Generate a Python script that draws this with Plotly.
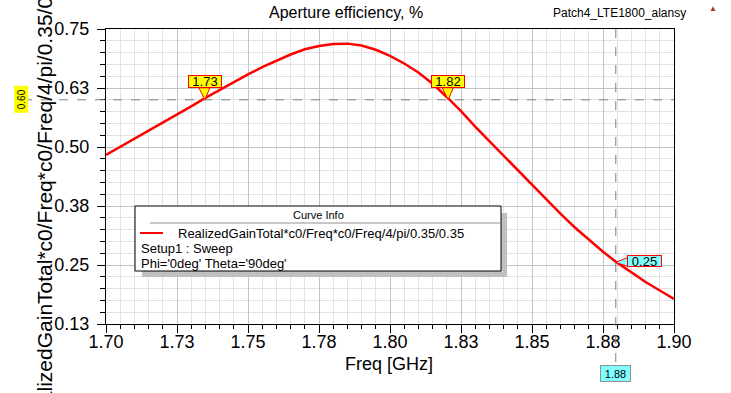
import plotly.graph_objects as go

# ---------------- data ----------------
freq_ghz = [1.700, 1.705, 1.710, 1.715, 1.720, 1.725, 1.730, 1.735, 1.740, 1.745,
            1.750, 1.755, 1.760, 1.765, 1.770, 1.775, 1.780, 1.785, 1.790, 1.795,
            1.800, 1.805, 1.810, 1.815, 1.820, 1.825, 1.830, 1.835, 1.840, 1.845,
            1.850, 1.855, 1.860, 1.865, 1.870, 1.875, 1.880, 1.885, 1.890, 1.895,
            1.900]
efficiency = [0.483, 0.500, 0.517, 0.534, 0.551, 0.568, 0.586, 0.604, 0.621, 0.638,
              0.654, 0.669, 0.683, 0.696, 0.707, 0.714, 0.718, 0.719, 0.715, 0.706,
              0.693, 0.677, 0.658, 0.634, 0.606, 0.576, 0.543, 0.512, 0.481, 0.450,
              0.419, 0.389, 0.359, 0.330, 0.303, 0.278, 0.255, 0.234, 0.214, 0.196,
              0.178]

x_tick_vals = [1.700, 1.725, 1.750, 1.775, 1.800, 1.825, 1.850, 1.875, 1.900]
x_tick_text = ["1.70", "1.73", "1.75", "1.78", "1.80", "1.83", "1.85", "1.88", "1.90"]
y_tick_vals = [0.125, 0.25, 0.375, 0.5, 0.625, 0.75]
y_tick_text = ["0.13", "0.25", "0.38", "0.50", "0.63", "0.75"]

marker_freqs = [1.7348, 1.8205]
marker_freq_labels = ["1.73", "1.82"]
marker_level = 0.60
marker_level_label = "0.60"
probe_freq = 1.8795
probe_freq_label = "1.88"
probe_value = 0.2555
probe_value_label = "0.25"

title_text = "Aperture efficiency, %"
project_text = "Patch4_LTE1800_alansy"
x_title = "Freq [GHz]"
y_title = "RealizedGainTotal*c0/Freq*c0/Freq/4/pi/0.35/0.35"
legend_header = "Curve Info"
legend_lines = ["RealizedGainTotal*c0/Freq*c0/Freq/4/pi/0.35/0.35",
                "Setup1 : Sweep",
                "Phi='0deg' Theta='90deg'"]

# ---------------- layout helpers ----------------
W, H = 731, 393
L, R, T, B = 106, 57, 29, 69
PW = W - L - R
PH = H - T - B
FONT = "Liberation Sans, Arial, sans-serif"


def px(x):
    return (x - L) / PW


def py(y):
    return (H - B - y) / PH


fig = go.Figure()
fig.add_trace(go.Scatter(x=freq_ghz, y=efficiency, mode="lines",
                         line=dict(color="#ff0000", width=2.5),
                         showlegend=False, hoverinfo="skip"))

axis_common = dict(showline=True, linecolor="black", linewidth=1, mirror=True,
                   ticks="outside", tickcolor="black", ticklen=8, tickwidth=1,
                   tickfont=dict(family=FONT, size=18, color="black"),
                   showgrid=True, gridcolor="#c4c4c4", gridwidth=1,
                   zeroline=False, fixedrange=True)

fig.update_xaxes(range=[1.70, 1.90], tickmode="array", tickvals=x_tick_vals,
                 ticktext=x_tick_text, ticklabelstandoff=-7,
                 minor=dict(dtick=0.005, tick0=1.70, ticks="outside", ticklen=4,
                            tickcolor="black", showgrid=True, gridcolor="#e2e2e2"),
                 **axis_common)
fig.update_yaxes(range=[0.125, 0.75], tickmode="array", tickvals=y_tick_vals,
                 ticktext=y_tick_text, ticklabelstandoff=4,
                 minor=dict(dtick=0.025, tick0=0.125, ticks="outside", ticklen=5,
                            tickcolor="black", showgrid=True, gridcolor="#e2e2e2"),
                 **axis_common)

shapes = []
# marker level line and probe line
shapes.append(dict(type="line", xref="paper", yref="y", x0=px(23), x1=1,
                   y0=marker_level, y1=marker_level,
                   line=dict(color="#808080", width=1, dash="dash")))
shapes.append(dict(type="line", xref="x", yref="paper", x0=probe_freq, x1=probe_freq,
                   y0=1, y1=py(373),
                   line=dict(color="#808080", width=1, dash="dash")))
# legend box
shapes.append(dict(type="rect", xref="paper", yref="paper", x0=px(142), x1=px(507),
                   y0=py(277), y1=py(213), fillcolor="#c0c0c0", line=dict(width=0)))
shapes.append(dict(type="rect", xref="paper", yref="paper", x0=px(135), x1=px(501),
                   y0=py(271), y1=py(206), fillcolor="white",
                   line=dict(color="black", width=1)))
shapes.append(dict(type="line", xref="paper", yref="paper", x0=px(150), x1=px(501),
                   y0=py(223), y1=py(223), line=dict(color="#909090", width=1)))
shapes.append(dict(type="line", xref="paper", yref="paper", x0=px(140), x1=px(163),
                   y0=py(233), y1=py(233), line=dict(color="#ff0000", width=2)))
# marker pointers
for f in marker_freqs:
    shapes.append(dict(type="path", xref="x", yref="y", xsizemode="pixel",
                       ysizemode="pixel", xanchor=f, yanchor=marker_level,
                       path="M -6 12 L 5 12 L 0 0 Z", fillcolor="#ffff00",
                       line=dict(color="#ff0000", width=1)))
shapes.append(dict(type="path", xref="x", yref="y", xsizemode="pixel",
                   ysizemode="pixel", xanchor=probe_freq, yanchor=probe_value,
                   path="M 12 5 L 0 0 L 12 -4 Z", fillcolor="#80ffff",
                   line=dict(color="#ff0000", width=1)))

ann = []
for f, lab in zip(marker_freqs, marker_freq_labels):
    ann.append(dict(x=f, y=marker_level, xref="x", yref="y", text=lab,
                    showarrow=False, yshift=18, bgcolor="#ffff00",
                    bordercolor="#ff0000", borderwidth=1, borderpad=0,
                    width=32, height=11, font=dict(family=FONT, size=13, color="black")))
ann.append(dict(x=probe_freq, y=probe_value, xref="x", yref="y", text=probe_value_label,
                showarrow=False, xshift=29, yshift=1, bgcolor="#80ffff",
                bordercolor="#ff0000", borderwidth=1, borderpad=0,
                width=33, height=10, font=dict(family=FONT, size=13, color="black")))
ann.append(dict(x=probe_freq, y=py(381.5), xref="x", yref="paper", text=probe_freq_label,
                showarrow=False, bgcolor="#80ffff", bordercolor="#909090",
                borderwidth=1, borderpad=0, width=29, height=15,
                font=dict(family=FONT, size=11, color="black")))
ann.append(dict(x=px(14), y=marker_level, xref="paper", yref="y", text=marker_level_label,
                showarrow=False, textangle=-90, bgcolor="#ffff00", borderwidth=0,
                borderpad=0, width=27, height=14,
                font=dict(family=FONT, size=10, color="black")))
# titles
ann.append(dict(x=px(346), y=py(12), xref="paper", yref="paper", text=title_text,
                showarrow=False, xanchor="center", yanchor="middle",
                font=dict(family=FONT, size=16, color="black")))
ann.append(dict(x=px(688), y=py(13), xref="paper", yref="paper", text=project_text,
                showarrow=False, xanchor="right", yanchor="middle",
                font=dict(family=FONT, size=12, color="black")))
ann.append(dict(x=px(713), y=py(8), xref="paper", yref="paper", text="▲",
                showarrow=False, xanchor="center", yanchor="middle",
                font=dict(family=FONT, size=8, color="#b03030")))
ann.append(dict(x=px(389), y=py(364), xref="paper", yref="paper", text=x_title,
                showarrow=False, xanchor="center", yanchor="middle",
                font=dict(family=FONT, size=18, color="black")))
ann.append(dict(x=px(44), y=py(199), xref="paper", yref="paper", text=y_title,
                showarrow=False, textangle=-90, xanchor="center", yanchor="middle",
                font=dict(family=FONT, size=21, color="black")))
# legend texts
ann.append(dict(x=px(318), y=py(215), xref="paper", yref="paper", text=legend_header,
                showarrow=False, xanchor="center", yanchor="middle",
                font=dict(family=FONT, size=11, color="black")))
ann.append(dict(x=px(176), y=py(233), xref="paper", yref="paper", text=legend_lines[0],
                showarrow=False, xanchor="left", yanchor="middle",
                font=dict(family=FONT, size=13, color="black")))
ann.append(dict(x=px(139), y=py(248), xref="paper", yref="paper", text=legend_lines[1],
                showarrow=False, xanchor="left", yanchor="middle",
                font=dict(family=FONT, size=13, color="black")))
ann.append(dict(x=px(139), y=py(263), xref="paper", yref="paper", text=legend_lines[2],
                showarrow=False, xanchor="left", yanchor="middle",
                font=dict(family=FONT, size=13, color="black")))

fig.update_layout(width=W, height=H, autosize=False,
                  margin=dict(l=L, r=R, t=T, b=B, pad=0),
                  paper_bgcolor="white", plot_bgcolor="white",
                  shapes=shapes, annotations=ann, showlegend=False,
                  font=dict(family=FONT, color="black"))

fig.write_html("out.html", config={"displayModeBar": False},
               post_script="document.body.style.margin='0';")
